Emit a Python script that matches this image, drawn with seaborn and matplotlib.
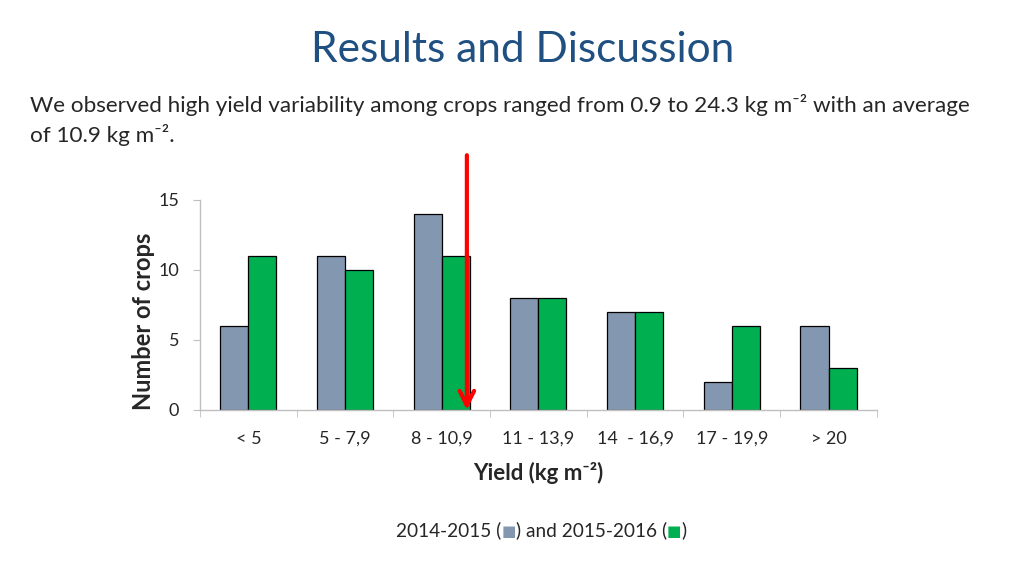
import pandas as pd
import seaborn as sns
import matplotlib.pyplot as plt
import numpy as np

# yield classes and number of crops per season
classes = ['< 5', '5 - 7,9', '8 - 10,9', '11 - 13,9', '14  - 16,9', '17 - 19,9', '> 20']
season_1 = [6, 11, 14, 8, 7, 2, 6]    # 2014-2015
season_2 = [11, 10, 11, 8, 7, 6, 3]   # 2015-2016
seasons = ['2014-2015', '2015-2016']
colors = ['#8497B0', '#00B050']
avg_position = 2.26  # average yield 10.9 kg m-2 marked inside the 8 - 10,9 class

df = pd.DataFrame({
    'Yield': classes * 2,
    'Count': season_1 + season_2,
    'Season': [seasons[0]] * len(classes) + [seasons[1]] * len(classes),
})

sns.set_style('white')
plt.rcParams['font.family'] = ['Lato', 'DejaVu Sans']

fig = plt.figure(figsize=(10.24, 5.76), dpi=100)
ax = fig.add_axes([0.1953, 0.2882, 0.661, 0.3646])

sns.barplot(data=df, x='Yield', y='Count', hue='Season', palette=colors, saturation=1,
            width=0.58, edgecolor='black', linewidth=0.9, legend=False, ax=ax)

ax.set_ylim(0, 15)
ax.set_xlim(-0.5, len(classes) - 0.5)
ax.set_yticks([0, 5, 10, 15])
ax.set_xticks(np.arange(-0.5, len(classes)), minor=True)
ax.tick_params(axis='x', which='major', length=0, pad=15, labelsize=13)
ax.tick_params(axis='x', which='minor', length=5, color='#BFBFBF', direction='out', bottom=True)
ax.tick_params(axis='y', length=5, color='#BFBFBF', direction='out', left=True, labelsize=13, pad=10)
for s in ['top', 'right']:
    ax.spines[s].set_visible(False)
for s in ['left', 'bottom']:
    ax.spines[s].set_color('#BFBFBF')
    ax.spines[s].set_linewidth(1)

ax.set_ylabel('Number of crops', fontsize=17, fontweight='bold')
ax.yaxis.set_label_coords(-0.066, 0.424)
ax.set_xlabel('Yield (kg m⁻²)', fontsize=16, fontweight='bold', labelpad=11)

# red arrow marking the average yield
ax.annotate('', xy=(avg_position, 0), xytext=(avg_position, 18.2),
            xycoords='data', annotation_clip=False,
            arrowprops=dict(arrowstyle='->', color='#FF0000', lw=3,
                            mutation_scale=26, shrinkA=0, shrinkB=0))

fig.text(0.51, 0.913, 'Results and Discussion', fontsize=30.5, color='#1F5081',
         ha='center', va='center')
fig.text(0.029, 0.818, 'We observed high yield variability among crops ranged from 0.9 to 24.3 kg m⁻² with an average',
         fontsize=16.2, ha='left', va='center')
fig.text(0.029, 0.765, 'of 10.9 kg m⁻².', fontsize=16.2, ha='left', va='center')

# footer legend written as text with coloured squares
t = fig.text(0.387, 0.07, '2014-2015 (', fontsize=13.7, ha='left', va='baseline')
t = ax.annotate('■', xy=(1, 0), xycoords=t, va='bottom', fontsize=11, color=colors[0],
                family='DejaVu Sans')
t = ax.annotate(') and 2015-2016 (', xy=(1, 0), xycoords=t, va='bottom', fontsize=13.7)
t = ax.annotate('■', xy=(1, 0), xycoords=t, va='bottom', fontsize=11, color=colors[1],
                family='DejaVu Sans')
ax.annotate(')', xy=(1, 0), xycoords=t, va='bottom', fontsize=13.7)

fig.savefig('out.png', dpi=100)
